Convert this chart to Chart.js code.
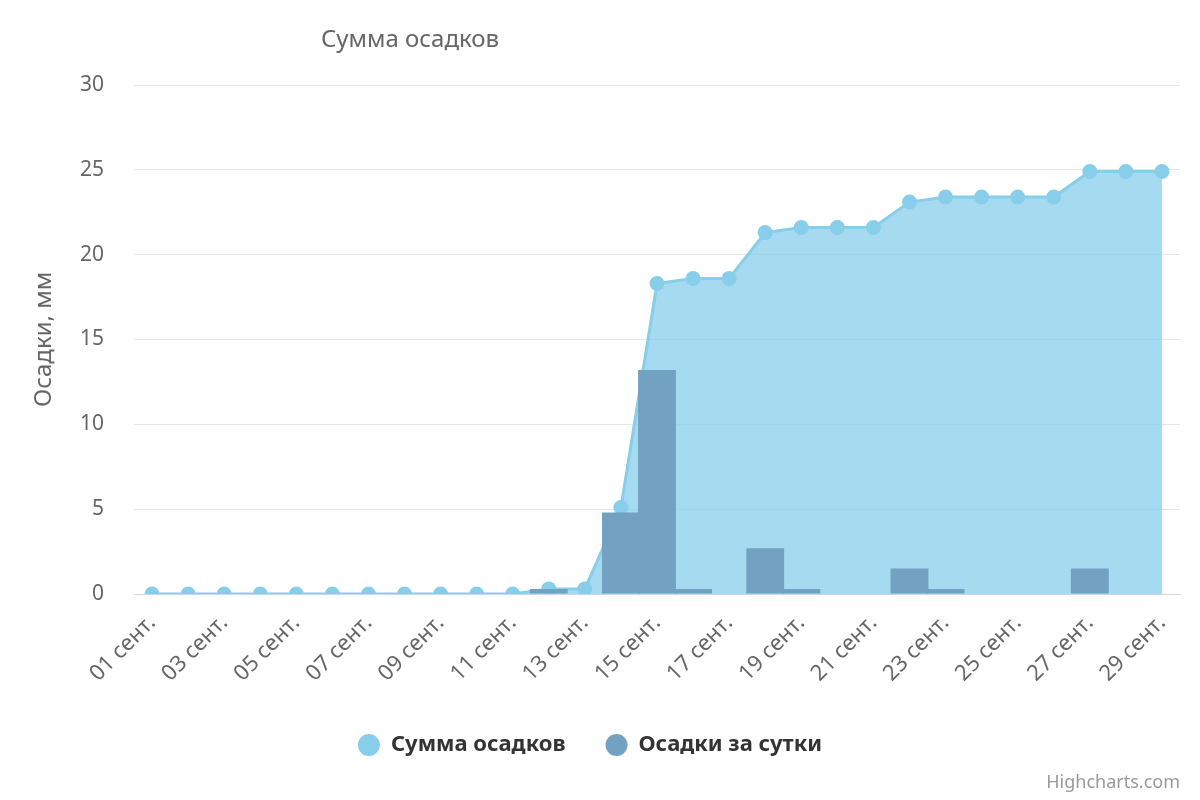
<!DOCTYPE html>
<html>
<head>
<meta charset="utf-8">
<script src="https://cdn.jsdelivr.net/npm/chart.js@4/dist/chart.umd.min.js"></script>
<style>
  html, body { margin: 0; padding: 0; background: #fff; }
  #wrap { width: 1200px; height: 800px; }
</style>
</head>
<body>
<div id="wrap"><canvas id="myChart" width="1200" height="800"></canvas></div>
<script>
// categories (days of September)
const days = ['01 сент.', '02 сент.', '03 сент.', '04 сент.', '05 сент.', '06 сент.', '07 сент.', '08 сент.',
  '09 сент.', '10 сент.', '11 сент.', '12 сент.', '13 сент.', '14 сент.', '15 сент.', '16 сент.',
  '17 сент.', '18 сент.', '19 сент.', '20 сент.', '21 сент.', '22 сент.', '23 сент.', '24 сент.',
  '25 сент.', '26 сент.', '27 сент.', '28 сент.', '29 сент.'];

// cumulative precipitation, mm
const total = [0, 0, 0, 0, 0, 0, 0, 0, 0, 0, 0, 0.3, 0.3, 5.1, 18.3, 18.6, 18.6, 21.3, 21.6, 21.6,
  21.6, 23.1, 23.4, 23.4, 23.4, 23.4, 24.9, 24.9, 24.9];

// daily precipitation, mm
const daily = [0, 0, 0, 0, 0, 0, 0, 0, 0, 0, 0, 0.3, 0, 4.8, 13.2, 0.3, 0, 2.7, 0.3, 0,
  0, 1.5, 0.3, 0, 0, 0, 1.5, 0, 0];

const yTicks = [0, 5, 10, 15, 20, 25, 30];

const FONT = '"Noto Sans", "DejaVu Sans", sans-serif';
const lineColor = 'rgb(135, 206, 235)';
const barColor = 'rgb(114, 161, 194)';
const legendColors = [lineColor, barColor];

// title and credits drawn at fixed spots
const extraText = {
  id: 'extraText',
  afterDraw(chart) {
    const ctx = chart.ctx;
    ctx.save();
    ctx.fillStyle = '#666666';
    ctx.font = '24px ' + FONT;
    ctx.textAlign = 'center';
    ctx.textBaseline = 'middle';
    ctx.fillText('Сумма осадков', 410, 40);
    ctx.fillStyle = '#999999';
    ctx.font = '18px ' + FONT;
    ctx.textAlign = 'right';
    ctx.fillText('Highcharts.com', 1180, 783);
    ctx.restore();
  }
};

new Chart(document.getElementById('myChart'), {
  data: {
    labels: days,
    datasets: [
      {
        type: 'line',
        label: 'Сумма осадков',
        data: total,
        borderColor: lineColor,
        backgroundColor: 'rgba(135, 206, 235, 0.75)',
        borderWidth: 3,
        fill: 'origin',
        tension: 0,
        pointRadius: 7.5,
        pointBackgroundColor: lineColor,
        pointBorderWidth: 0,
        order: 1
      },
      {
        type: 'bar',
        label: 'Осадки за сутки',
        data: daily,
        backgroundColor: barColor,
        borderWidth: 0,
        categoryPercentage: 1,
        barPercentage: 1.05,
        order: 0
      }
    ]
  },
  options: {
    responsive: false,
    animation: false,
    layout: { padding: { top: 85, right: 20, bottom: 34, left: 0 } },
    plugins: {
      tooltip: { enabled: false },
      legend: {
        position: 'bottom',
        labels: {
          usePointStyle: true,
          pointStyle: 'circle',
          pointStyleWidth: 22,
          boxHeight: 15.5,
          padding: 40,
          color: '#333333',
          font: { family: FONT, size: 22, weight: 'bold' },
          sort: (a, b) => a.datasetIndex - b.datasetIndex,
          generateLabels(chart) {
            const items = Chart.defaults.plugins.legend.labels.generateLabels(chart);
            items.forEach(it => {
              it.fillStyle = legendColors[it.datasetIndex];
              it.strokeStyle = legendColors[it.datasetIndex];
              it.lineWidth = 0;
            });
            return items;
          }
        }
      }
    },
    scales: {
      x: {
        offset: true,
        grid: { display: false },
        border: { display: true, color: '#ccd6eb', width: 1 },
        ticks: {
          autoSkip: false,
          maxRotation: 45,
          minRotation: 45,
          padding: 8,
          color: '#666666',
          font: { family: FONT, size: 22 },
          callback: (v, i) => (i % 2 === 0 ? days[i] : '')
        },
        afterFit(scale) { scale.height = 100; }
      },
      y: {
        min: 0,
        max: 30,
        afterBuildTicks(scale) { scale.ticks = yTicks.map(v => ({ value: v })); },
        grid: { color: '#e6e6e6', lineWidth: 1, drawTicks: false },
        border: { display: false },
        ticks: {
          padding: 30,
          color: '#666666',
          font: { family: FONT, size: 21 }
        },
        title: {
          display: true,
          text: 'Осадки, мм',
          color: '#666666',
          font: { family: FONT, size: 24 },
          padding: { top: 30, bottom: 0 }
        },
        afterFit(scale) { scale.width = 134; }
      }
    }
  },
  plugins: [extraText]
});
</script>
</body>
</html>
